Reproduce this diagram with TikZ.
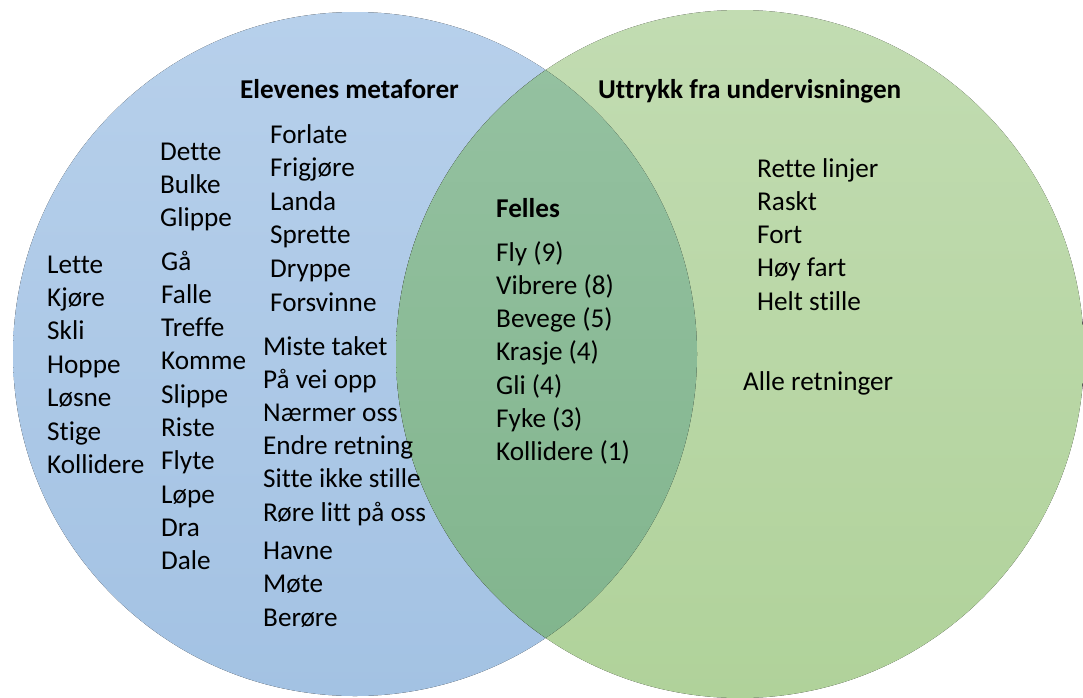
\documentclass[tikz,border=0pt]{standalone}
\usepackage{fontspec}
\setmainfont[Ligatures=NoCommon]{Carlito}
\definecolor{bluetop}{RGB}{183,208,235}
\definecolor{bluebot}{RGB}{163,194,227}
\definecolor{greentop}{RGB}{194,220,178}
\definecolor{greenbot}{RGB}{176,210,154}
\definecolor{bothtop}{RGB}{150,194,162}
\definecolor{bothbot}{RGB}{128,180,140}
\begin{document}
\begin{tikzpicture}[x=1pt,y=-1pt,
	verb/.style={anchor=base west,inner sep=0pt,font=\fontsize{27.2}{30}\selectfont},
	heading/.style={verb,font=\fontsize{27.2}{30}\selectfont\bfseries}]
		\useasboundingbox (0,0) rectangle (1083,697);
		% the two sets
		\fill [top color=bluetop,bottom color=bluebot] (355,354) circle (342pt);
		\fill [top color=greentop,bottom color=greenbot] (740,354) circle (344pt);
		\begin{scope}
		\clip (355,354) circle (342pt);
		\fill [top color=bothtop,bottom color=bothbot] (740,354) circle (344pt);
		\end{scope}
		% headings
		\node [heading] (elever) at (240,98) {Elevenes metaforer};
		\node [heading] (uttrykk) at (598,98) {Uttrykk fra undervisningen};
		\node [heading] (felles) at (496,217) {Felles};
		% students
		\foreach \w [count=\i] in {Lette,Kjøre,Skli,Hoppe,Løsne,Stige,Kollidere}
		\node [verb] (a\i) at (47,{273+33.4*(\i-1)}) {\w};
		\foreach \w [count=\i] in {Dette,Bulke,Glippe}
		\node [verb] (b\i) at (160,{160+33*(\i-1)}) {\w};
		\foreach \w [count=\i] in {Gå,Falle,Treffe,Komme,Slippe,Riste,Flyte,Løpe,Dra,Dale}
		\node [verb] (c\i) at (161,{270+33.3*(\i-1)}) {\w};
		\foreach \w [count=\i] in {Forlate,Frigjøre,Landa,Sprette,Dryppe,Forsvinne}
		\node [verb] (d\i) at (270,{143+33.6*(\i-1)}) {\w};
		\foreach \w [count=\i] in {Miste taket,På vei opp,Nærmer oss,Endre retning,Sitte ikke stille,Røre litt på oss}
		\node [verb] (e\i) at (263,{355+33.2*(\i-1)}) {\w};
		\foreach \w [count=\i] in {Havne,Møte,Berøre}
		\node [verb] (f\i) at (263,{559+33.5*(\i-1)}) {\w};
		% shared
		\foreach \w [count=\i] in {{Fly (9)},{Vibrere (8)},{Bevege (5)},{Krasje (4)},{Gli (4)},{Fyke (3)},{Kollidere (1)}}
		\node [verb] (g\i) at (496,{261+33.3*(\i-1)}) {\w};
		% teaching
		\foreach \w [count=\i] in {Rette linjer,Raskt,Fort,Høy fart,Helt stille}
		\node [verb] (h\i) at (757,{177+33.25*(\i-1)}) {\w};
		\node [verb] (alle) at (743,390) {Alle retninger};
\end{tikzpicture}
\end{document}
